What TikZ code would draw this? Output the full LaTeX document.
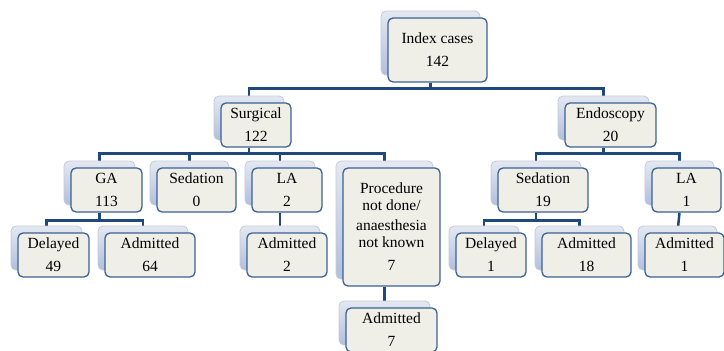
\documentclass[tikz,border=0pt]{standalone}
\usepackage{fontspec}
\setmainfont{Liberation Serif}
\usetikzlibrary{shadows,backgrounds}
\definecolor{linkblue}{RGB}{31,73,125}
\definecolor{boxline}{RGB}{60,98,145}
\definecolor{boxfill}{RGB}{239,238,231}
\definecolor{backtop}{RGB}{228,232,241}
\definecolor{backbot}{RGB}{176,191,223}
\definecolor{backline}{RGB}{196,202,214}

\begin{document}
\begin{tikzpicture}[x=1pt,y=1pt,
  box/.style={draw=boxline, line width=1.3pt, fill=boxfill, rounded corners=5pt, inner sep=0pt, align=center, minimum height=44pt, font=\fontsize{15.5}{17}\selectfont,
    copy shadow={shadow xshift=-7pt, shadow yshift=7pt, draw=backline, line width=0.8pt, top color=backtop, bottom color=backbot}},
  link/.style={draw=linkblue, line width=2.5pt}]
\useasboundingbox (0,-351) rectangle (724,0);
\clip (0,-351) rectangle (724,0);
\node[box, minimum width=99pt, minimum height=64pt] (ix) at (437.5,-50) {Index cases\\[6pt]142};
\node[box, minimum width=70pt] (su) at (256,-125) {Surgical\\[6pt]122};
\node[box, minimum width=91pt] (en) at (610.5,-125) {Endoscopy\\[6pt]20};
\node[box, minimum width=71pt] (ga) at (106.5,-190) {GA\\[6pt]113};
\node[box, minimum width=79pt] (sd) at (196.5,-190) {Sedation\\[6pt]0};
\node[box, minimum width=70pt] (la) at (287,-190) {LA\\[6pt]2};
\node[box, minimum width=97pt, minimum height=118pt] (pr) at (391.5,-227) {Procedure\\not done/\\[3pt]anaesthesia\\not known\\[6pt]7};
\node[box, minimum width=90pt] (es) at (543,-190) {Sedation\\[6pt]19};
\node[box, minimum width=69pt] (el) at (686.5,-190) {LA\\[6pt]1};
\node[box, minimum width=71pt] (gad) at (53.5,-255) {Delayed\\[6pt]49};
\node[box, minimum width=90pt] (gaa) at (150,-255) {Admitted\\[6pt]64};
\node[box, minimum width=80pt] (laa) at (287,-255) {Admitted\\[6pt]2};
\node[box, minimum width=91pt] (pra) at (391.5,-330) {Admitted\\[6pt]7};
\node[box, minimum width=70pt] (esd) at (491,-255) {Delayed\\[6pt]1};
\node[box, minimum width=89pt] (esa) at (586.5,-255) {Admitted\\[6pt]18};
\node[box, minimum width=79pt] (ela) at (684.5,-255) {Admitted\\[6pt]1};
\begin{scope}[on background layer]
\draw[link] ([xshift=-7pt]ix.south) -- ++(0,-6) -| ([xshift=-7pt]su.north);
\draw[link] ([xshift=-7pt]ix.south) -- ++(0,-6) -| ([xshift=-7pt]en.north);
\draw[link] ([xshift=-7pt]su.south) -- ++(0,-6) -| ([xshift=-7pt]ga.north);
\draw[link] ([xshift=-7pt]su.south) -- ++(0,-6) -| ([xshift=-7pt]sd.north);
\draw[link] ([xshift=-7pt]su.south) -- ++(0,-6) -| ([xshift=-7pt]la.north);
\draw[link] ([xshift=-7pt]su.south) -- ++(0,-6) -| ([xshift=-7pt]pr.north);
\draw[link] ([xshift=-7pt]en.south) -- ++(0,-6) -| ([xshift=-7pt]es.north);
\draw[link] ([xshift=-7pt]en.south) -- ++(0,-6) -| ([xshift=-7pt]el.north);
\draw[link] ([xshift=-7pt]ga.south) -- ++(0,-8) -| ([xshift=-7pt]gad.north);
\draw[link] ([xshift=-7pt]ga.south) -- ++(0,-8) -| ([xshift=-7pt]gaa.north);
\draw[link] ([xshift=-7pt]la.south) -- ([xshift=-7pt]laa.north);
\draw[link] ([xshift=-7pt]pr.south) -- ([xshift=-7pt]pra.north);
\draw[link] ([xshift=-7pt]es.south) -- ++(0,-8) -| ([xshift=-7pt]esd.north);
\draw[link] ([xshift=-7pt]es.south) -- ++(0,-8) -| ([xshift=-7pt]esa.north);
\draw[link] ([xshift=-7pt]el.south) -- ([xshift=-7pt]ela.north);
\end{scope}
\end{tikzpicture}
\end{document}
